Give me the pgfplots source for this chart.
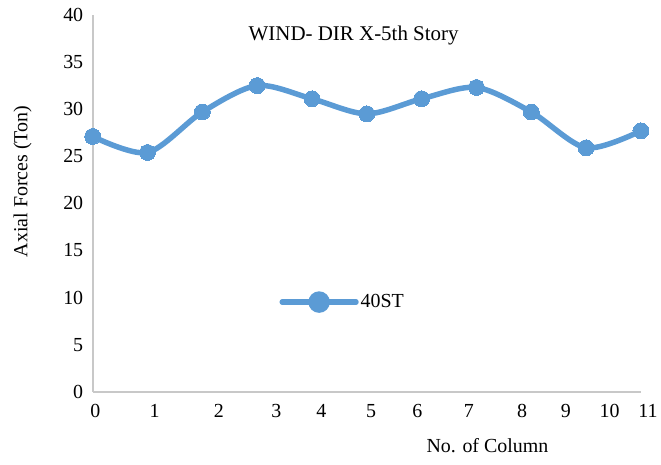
\documentclass[border=0pt]{standalone}
\usepackage{fontspec}
\setmainfont{Liberation Serif}
\usepackage{pgfplots}
\pgfplotsset{compat=1.18}
\definecolor{lineblue}{HTML}{5B9BD5}
\definecolor{axisgray}{HTML}{C8C8C8}

\begin{document}
\begin{tikzpicture}
\begin{axis}[
  scale only axis,
  width=550pt, height=378pt,
  xmin=0, xmax=10,
  ymin=0, ymax=40,
  axis x line=bottom, axis y line=left,
  axis line style={axisgray, line width=1.6pt, -},
  major tick length=0pt,
  ytick={0,5,...,40},
  xtick={0.05,1.13,2.30,3.35,4.17,5.08,5.92,6.86,7.83,8.63,9.43},
  xticklabels={0,1,2,3,4,5,6,7,8,9,10},
  /pgf/number format/assume math mode=true,
  tick label style={font=\fontsize{20}{22}\selectfont},
  xticklabel style={yshift=-9pt},
  yticklabel style={xshift=-6pt},
  clip=false,
  title={WIND- DIR X-5th Story},
  title style={at={(rel axis cs:0.476,0.93)}, anchor=center,
    font=\fontsize{21}{24}\selectfont},
  xlabel={No. of Column},
  xlabel style={at={(rel axis cs:0.72,-0.143)}, anchor=center,
    font=\fontsize{20}{22}\selectfont},
  ylabel={Axial Forces (Ton)},
  ylabel style={at={(rel axis cs:-0.128,0.558)}, anchor=center, rotate=0,
    font=\fontsize{20}{22}\selectfont},
  legend style={at={(rel axis cs:0.456,0.238)}, anchor=center, draw=none,
    fill=none, font=\fontsize{20}{22}\selectfont},
  legend image code/.code={
    \draw[lineblue, line width=5.5pt, line cap=round] (0pt,0pt) -- (74pt,0pt);
    \fill[lineblue] (37pt,0pt) circle (8pt);
  },
]
\addplot[lineblue, line width=5.5pt, smooth, tension=0.5,
  mark=*, mark size=8pt, mark options={fill=lineblue, draw=lineblue, line width=0pt}]
  coordinates {
  (0,27.1) (1,25.4) (2,29.7) (3,32.5) (4,31.1) (5,29.5)
  (6,31.1) (7,32.3) (8,29.7) (9,25.9) (10,27.7)
  };
\addlegendentry{40ST}
% last tick label sits past the end of the axis line
\node[anchor=north, yshift=-9pt, inner sep=0.333em, font=\fontsize{20}{22}\selectfont]
  at (axis cs:10.13,0) {11};
\end{axis}
\path (current axis.south west) ++(-93pt,-73pt) rectangle ++(661pt,466pt);
\end{tikzpicture}
\end{document}
